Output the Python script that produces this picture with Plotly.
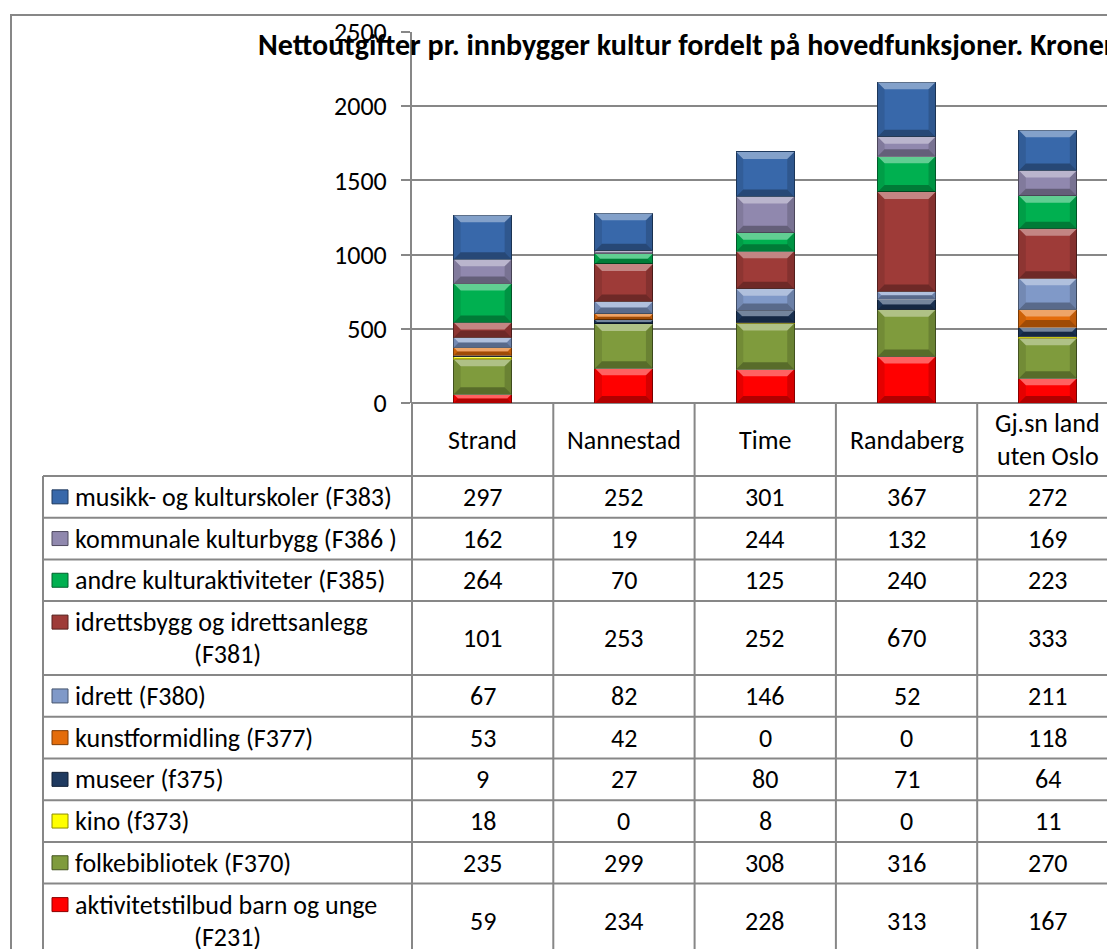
import plotly.graph_objects as go

# ---------------------------------------------------------------- data
categories = ["Strand", "Nannestad", "Time", "Randaberg", "Gj.sn land\nuten Oslo"]

# stack order, bottom to top
aktivitetstilbud = [59, 234, 228, 313, 167]
folkebibliotek = [235, 299, 308, 316, 270]
kino = [18, 0, 8, 0, 11]
museer = [9, 27, 80, 71, 64]
kunstformidling = [53, 42, 0, 0, 118]
idrett = [67, 82, 146, 52, 211]
idrettsbygg = [101, 253, 252, 670, 333]
andre_kulturaktiviteter = [264, 70, 125, 240, 223]
kommunale_kulturbygg = [162, 19, 244, 132, 169]
musikk_kulturskoler = [297, 252, 301, 367, 272]

series_names = [
    "aktivitetstilbud barn og unge\n(F231)",
    "folkebibliotek (F370)",
    "kino (f373)",
    "museer (f375)",
    "kunstformidling (F377)",
    "idrett (F380)",
    "idrettsbygg og idrettsanlegg\n(F381)",
    "andre kulturaktiviteter (F385)",
    "kommunale kulturbygg (F386 )",
    "musikk- og kulturskoler (F383)",
]
series_values = [
    aktivitetstilbud, folkebibliotek, kino, museer, kunstformidling,
    idrett, idrettsbygg, andre_kulturaktiviteter, kommunale_kulturbygg,
    musikk_kulturskoler,
]
series_colors = [
    "#FF0000", "#7F9B3D", "#FFFF00", "#1F3A60", "#E46C0A",
    "#8099C8", "#9E3B38", "#00B050", "#9088AE", "#3868AA",
]
y_ticks = [0, 500, 1000, 1500, 2000, 2500]
title_text = "Nettoutgifter pr. innbygger kultur fordelt på hovedfunksjoner. Kroner"

# ---------------------------------------------------------------- layout constants (pixels)
W, H = 1107, 949
PLOT_L, PLOT_T, PLOT_B = 412, 32, 403
CAT_W = 141.3            # pixel width of one category column
BAR_W = 0.41             # bar width in category units
TABLE_L = 43             # left edge of the legend column
HEADER_B = 476           # bottom of the header row
ROW1, ROW2 = 41.7, 74.0  # heights of single / double line rows
LINE_GAP = 32            # spacing of wrapped text lines
GRID = "#878787"
FONT = "Carlito, Calibri, Lato, sans-serif"
FS = 26
TITLE_FS = 30

x_max = -0.5 + (W - PLOT_L) / CAT_W
Y_MAX = y_ticks[-1]
ppx = CAT_W
ppy = (PLOT_B - PLOT_T) / Y_MAX


def px_x(px):
    return (px - PLOT_L) / (W - PLOT_L)


def px_y(py):
    return (PLOT_B - py) / (PLOT_B - PLOT_T)


def shade(hex_color, f):
    h = hex_color.lstrip("#")
    r, g, b = (int(h[i:i + 2], 16) for i in (0, 2, 4))
    return "#%02X%02X%02X" % (int(r * f), int(g * f), int(b * f))


xs = list(range(len(categories)))

fig = go.Figure()
for name, vals, col in zip(series_names, series_values, series_colors):
    fig.add_trace(go.Bar(
        x=xs, y=vals, name=name.replace("\n", " "), width=BAR_W,
        marker=dict(color=col, line=dict(color=shade(col, 0.55), width=1)),
        showlegend=False,
    ))

shapes = []
annotations = []

# bevel facets on each stacked segment
bevel = 7
base = [0] * len(xs)
for vals, col in zip(series_values, series_colors):
    for i, v in enumerate(vals):
        if v <= 0:
            continue
        b0, b1 = base[i], base[i] + v
        d = min(bevel, v * ppy / 2)
        dx, dy = d / ppx, d / ppy
        x0, x1 = i - BAR_W / 2, i + BAR_W / 2
        facets = [
            ([(x0, b1), (x1, b1), (x1 - dx, b1 - dy), (x0 + dx, b1 - dy)], "rgba(255,255,255,0.38)"),
            ([(x0, b0), (x1, b0), (x1 - dx, b0 + dy), (x0 + dx, b0 + dy)], "rgba(0,0,0,0.30)"),
            ([(x0, b0), (x0 + dx, b0 + dy), (x0 + dx, b1 - dy), (x0, b1)], "rgba(0,0,0,0.10)"),
            ([(x1, b0), (x1 - dx, b0 + dy), (x1 - dx, b1 - dy), (x1, b1)], "rgba(0,0,0,0.16)"),
        ]
        for pts, fc in facets:
            path = "M" + " L".join(f"{px},{py}" for px, py in pts) + " Z"
            shapes.append(dict(type="path", path=path, xref="x", yref="y",
                               fillcolor=fc, line=dict(width=0), layer="above"))
        base[i] = b1

# outer chart border
shapes.append(dict(type="rect", xref="paper", yref="paper",
                   x0=px_x(11), x1=px_x(W + 30), y0=px_y(H + 30), y1=px_y(15),
                   line=dict(color=GRID, width=2), fillcolor="rgba(0,0,0,0)"))

# data table rows (top to bottom = reverse of stack order)
rows = list(zip(series_names, series_values, series_colors))[::-1]
row_edges = [HEADER_B]
for name, _, _ in rows:
    row_edges.append(row_edges[-1] + (ROW2 if "\n" in name else ROW1))

table_bottom = H + 20
for yb in row_edges:
    shapes.append(dict(type="line", xref="paper", yref="paper",
                       x0=px_x(TABLE_L), x1=px_x(W + 20), y0=px_y(yb), y1=px_y(yb),
                       line=dict(color=GRID, width=2)))
shapes.append(dict(type="line", xref="paper", yref="paper",
                   x0=px_x(TABLE_L), x1=px_x(TABLE_L), y0=px_y(HEADER_B), y1=px_y(table_bottom),
                   line=dict(color=GRID, width=2)))
shapes.append(dict(type="line", xref="paper", yref="paper",
                   x0=0, x1=0, y0=0, y1=px_y(table_bottom),
                   line=dict(color=GRID, width=2)))
for i in xs:
    shapes.append(dict(type="line", xref="x", yref="paper",
                       x0=i + 0.5, x1=i + 0.5, y0=0, y1=px_y(table_bottom),
                       line=dict(color=GRID, width=2)))

# header cells
for i, cat in zip(xs, categories):
    lines = cat.split("\n")
    mid = (PLOT_B + HEADER_B) / 2
    for k, ln in enumerate(lines):
        yc = mid + (k - (len(lines) - 1) / 2) * LINE_GAP
        annotations.append(dict(text=ln, x=i, xref="x", y=px_y(yc), yref="paper",
                                xanchor="center", yanchor="middle", showarrow=False,
                                font=dict(family=FONT, size=FS, color="#000000")))

# legend column and values
cell_mid_x = (TABLE_L + PLOT_L) / 2
for r, (name, vals, col) in enumerate(rows):
    top, bot = row_edges[r], row_edges[r + 1]
    mid = (top + bot) / 2
    lines = name.split("\n")
    first_y = mid - (len(lines) - 1) / 2 * LINE_GAP
    # key swatch
    shapes.append(dict(type="rect", xref="paper", yref="paper",
                       x0=px_x(52), x1=px_x(68), y0=px_y(first_y + 7), y1=px_y(first_y - 7),
                       fillcolor=col, line=dict(color=shade(col, 0.55), width=1)))
    for k, ln in enumerate(lines):
        yc = first_y + k * LINE_GAP
        if k == 0:
            annotations.append(dict(text=ln, x=px_x(73), xref="paper", y=px_y(yc), yref="paper",
                                    xanchor="left", yanchor="middle", showarrow=False,
                                    font=dict(family=FONT, size=FS, color="#000000")))
        else:
            annotations.append(dict(text=ln, x=px_x(cell_mid_x), xref="paper", y=px_y(yc),
                                    yref="paper", xanchor="center", yanchor="middle",
                                    showarrow=False,
                                    font=dict(family=FONT, size=FS, color="#000000")))
    for i, v in zip(xs, vals):
        annotations.append(dict(text=str(v), x=i, xref="x", y=px_y(mid), yref="paper",
                                xanchor="center", yanchor="middle", showarrow=False,
                                font=dict(family=FONT, size=FS, color="#000000")))

# chart title
annotations.append(dict(text=title_text, x=px_x(256), xref="paper", y=px_y(45), yref="paper",
                        xanchor="left", yanchor="middle", showarrow=False,
                        font=dict(family=FONT, size=TITLE_FS, color="#000000", weight="bold")))

fig.update_layout(
    width=W, height=H,
    margin=dict(l=PLOT_L, r=0, t=PLOT_T, b=H - PLOT_B, pad=0),
    barmode="stack",
    paper_bgcolor="#FFFFFF", plot_bgcolor="#FFFFFF",
    shapes=shapes, annotations=annotations,
    xaxis=dict(range=[-0.5, x_max], showticklabels=False, showgrid=False,
               zeroline=False, showline=False, fixedrange=True),
    yaxis=dict(range=[0, Y_MAX], tickvals=y_ticks, showgrid=True, gridcolor=GRID,
               gridwidth=2, zeroline=True, zerolinecolor=GRID, zerolinewidth=2,
               showline=True, linecolor=GRID, linewidth=2,
               ticks="outside", ticklen=9, tickwidth=2, tickcolor=GRID,
               ticklabelstandoff=9,
               tickfont=dict(family=FONT, size=FS, color="#000000")),
    font=dict(family=FONT, size=FS, color="#000000"),
)

fig.write_html("out.html")
